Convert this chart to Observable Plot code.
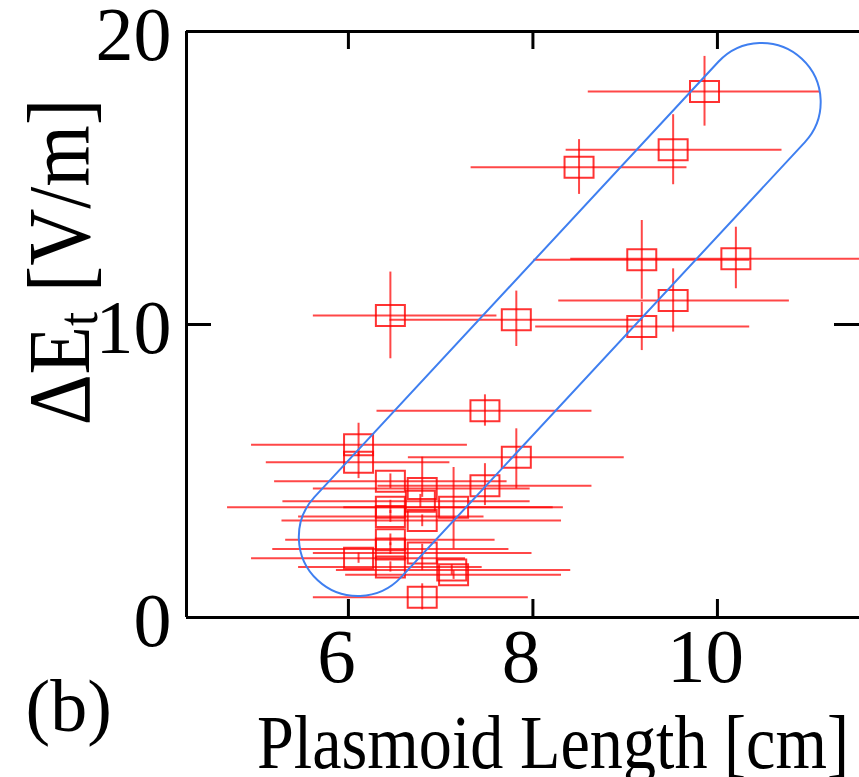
<!DOCTYPE html>
<html>
<head>
<meta charset="utf-8">
<script src="https://cdn.jsdelivr.net/npm/d3@7"></script>
<script src="https://cdn.jsdelivr.net/npm/@observablehq/plot@0.6"></script>
<style>
html, body { margin: 0; padding: 0; background: #ffffff; overflow: hidden; }
</style>
</head>
<body>
<div id="chart"></div>
<script>
// ---- data ----
const lengthCm = [9.86, 9.52, 8.50, 9.18, 10.20, 9.52, 9.18, 6.455, 7.82, 7.48,
                  6.11, 6.11, 7.82, 7.48, 7.14, 6.455, 6.80, 6.78, 6.455, 6.455,
                  6.80, 6.455, 6.455, 6.80, 6.11, 6.455, 7.12, 7.14, 6.80];
const deltaE   = [17.95, 15.96, 15.37, 12.21, 12.24, 10.82, 9.93, 10.31, 10.16, 7.06,
                  5.90, 5.30, 5.47, 4.50, 3.76, 4.65, 4.40, 3.97, 3.76, 3.45,
                  3.31, 2.65, 2.34, 2.20, 2.02, 1.72, 1.62, 1.46, 0.69];
const lengthMin = [8.60, 8.36, 7.33, 8.01, 8.41, 8.28, 8.03, 5.62, 6.45, 6.31,
                   4.95, 5.11, 6.65, 6.32, 5.95, 5.20, 5.62, 5.29, 4.69, 5.46,
                   5.28, 5.32, 5.18, 5.62, 4.95, 5.46, 5.87, 5.97, 5.62];
const lengthMax = [11.11, 10.70, 9.67, 10.35, 11.99, 10.78, 10.35, 7.61, 9.19, 8.64,
                   7.29, 7.10, 8.99, 8.64, 8.33, 7.72, 7.97, 7.97, 8.22, 7.47,
                   8.31, 7.59, 7.74, 7.99, 7.27, 7.45, 8.41, 8.31, 7.95];
const deltaEMin = [16.77, 14.77, 14.44, 10.86, 11.22, 9.74, 9.11, 8.83, 9.25, 6.53,
                   5.50, 4.74, 4.39, 3.82, 2.34, 4.40, 4.10, 3.75, 3.55, 3.25,
                   3.10, 2.45, 2.15, 1.60, 1.85, 1.55, 1.45, 1.30, 0.26];
const deltaEMax = [19.15, 17.16, 16.31, 13.55, 13.32, 11.90, 10.75, 11.79, 11.14, 7.60,
                   6.63, 5.60, 6.44, 5.25, 5.12, 4.90, 5.47, 4.20, 4.00, 3.65,
                   3.50, 2.85, 2.55, 2.50, 2.20, 1.90, 1.80, 1.60, 1.15];

const xTicks = [6, 8, 10];
const yTicks = [0, 10, 20];
const xDomain = [4.245, 11.54];
const yDomain = [0, 20];

// hand-drawn trend outline (stadium): end centres in data units, radius in x units
const blobX = [6.108, 10.485];
const blobY = [2.73, 17.58];
const blobRadius = [0.64];

const xTitle = "Plasmoid Length [cm]";
const panelTag = "(b)";

// ---- build table ----
const points = lengthCm.map((x, i) => ({
  x, y: deltaE[i],
  x1: lengthMin[i], x2: lengthMax[i],
  y1: deltaEMin[i], y2: deltaEMax[i]
}));

const W = 859, H = 777;
const mL = 186, mR = 0, mT = 31, mB = 160;
const frameW = W - mL - mR, frameH = H - mT - mB;
const SVGNS = "http://www.w3.org/2000/svg";

const boxSymbol = {
  draw(ctx) {
    ctx.moveTo(-14.5, -10.5);
    ctx.lineTo(14.5, -10.5);
    ctx.lineTo(14.5, 10.5);
    ctx.lineTo(-14.5, 10.5);
    ctx.closePath();
  }
};

function blobMark(index, scales) {
  const X = scales.x, Y = scales.y;
  const p1 = [X(blobX[0]), Y(blobY[0])];
  const p2 = [X(blobX[1]), Y(blobY[1])];
  const r = X(blobX[0] + blobRadius[0]) - X(blobX[0]);
  const dx = p2[0] - p1[0], dy = p2[1] - p1[1];
  const len = Math.hypot(dx, dy);
  const n = [dy / len, -dx / len];
  const a = [p1[0] + n[0] * r, p1[1] + n[1] * r];
  const b = [p2[0] + n[0] * r, p2[1] + n[1] * r];
  const c = [p2[0] - n[0] * r, p2[1] - n[1] * r];
  const d = [p1[0] - n[0] * r, p1[1] - n[1] * r];
  const path = document.createElementNS(SVGNS, "path");
  path.setAttribute("d",
    `M${a[0]},${a[1]}L${b[0]},${b[1]}A${r},${r} 0 0 1 ${c[0]},${c[1]}` +
    `L${d[0]},${d[1]}A${r},${r} 0 0 1 ${a[0]},${a[1]}Z`);
  path.setAttribute("fill", "none");
  path.setAttribute("stroke", "#3f7ff0");
  path.setAttribute("stroke-width", "2");
  return path;
}

function yTitleMark(index, scales, values, dims) {
  const t = document.createElementNS(SVGNS, "text");
  t.setAttribute("transform", `translate(${dims.marginLeft - 97},${262}) rotate(-90) scale(0.9,1)`);
  t.setAttribute("text-anchor", "middle");
  t.setAttribute("font-size", "88");
  t.setAttribute("fill", "black");
  const s1 = document.createElementNS(SVGNS, "tspan");
  s1.textContent = "ΔE";
  const s2 = document.createElementNS(SVGNS, "tspan");
  s2.textContent = "t";
  s2.setAttribute("font-size", "56");
  s2.setAttribute("dy", "8");
  const s3 = document.createElementNS(SVGNS, "tspan");
  s3.textContent = " [V/m]";
  s3.setAttribute("dy", "-8");
  t.append(s1, s2, s3);
  return t;
}

const chart = Plot.plot({
  width: W, height: H,
  marginLeft: mL, marginRight: mR, marginTop: mT, marginBottom: mB,
  x: { domain: xDomain, axis: null },
  y: { domain: yDomain, axis: null },
  style: { fontFamily: "'Liberation Serif', 'Times New Roman', serif", background: "#ffffff", color: "#000000" },
  marks: [
    // error bars
    Plot.ruleY(points, { y: "y", x1: "x1", x2: "x2", stroke: "#ff0000", strokeOpacity: 0.72, strokeWidth: 2 }),
    Plot.ruleX(points, { x: "x", y1: "y1", y2: "y2", stroke: "#ff0000", strokeOpacity: 0.72, strokeWidth: 2 }),
    // open boxes
    Plot.dot(points, { x: "x", y: "y", symbol: boxSymbol, fill: "none", stroke: "#ff0000", strokeOpacity: 0.8, strokeWidth: 2 }),
    // frame (top, bottom, left)
    Plot.ruleY([yDomain[0], yDomain[1]], { y: d => d, stroke: "#000", strokeWidth: 3 }),
    Plot.ruleX([xDomain[0]], { x: d => d, stroke: "#000", strokeWidth: 3 }),
    // inward ticks
    Plot.ruleX(xTicks, { x: d => d, insetTop: frameH - 18, stroke: "#000", strokeWidth: 3 }),
    Plot.ruleX(xTicks, { x: d => d, insetBottom: frameH - 18, stroke: "#000", strokeWidth: 3 }),
    Plot.ruleY(yTicks, { y: d => d, insetRight: frameW - 25, stroke: "#000", strokeWidth: 3 }),
    Plot.ruleY(yTicks, { y: d => d, insetLeft: frameW - 25, stroke: "#000", strokeWidth: 3 }),
    // tick labels
    Plot.text(xTicks, { x: d => d, text: d => String(d), frameAnchor: "bottom", lineAnchor: "bottom", dx: -12, dy: 64, fontSize: 77, fill: "#000" }),
    Plot.text(yTicks, { y: d => d, text: d => String(d), frameAnchor: "left", textAnchor: "end", lineAnchor: "bottom", dx: -15, dy: 28, fontSize: 76, fill: "#000" }),
    // titles
    Plot.text([xTitle], { text: d => d, frameAnchor: "bottom", textAnchor: "middle", lineAnchor: "bottom", dx: 30, dy: 150, fontSize: 77, fill: "#000" }),
    Plot.text([panelTag], { text: d => d, frameAnchor: "bottom-left", textAnchor: "start", lineAnchor: "bottom", dx: -161, dy: 113, fontSize: 74, fill: "#000" }),
    yTitleMark,
    // trend outline
    blobMark
  ]
});

document.getElementById("chart").appendChild(chart);

// condense a title horizontally about its own centre (reference type is narrow)
function squeezeText(content, sx) {
  chart.querySelectorAll("text").forEach(t => {
    if (t.textContent !== content) return;
    const bb = t.getBBox();
    const cx = bb.x + bb.width / 2;
    const tr = t.getAttribute("transform") || "";
    t.setAttribute("transform", `${tr} translate(${cx},0) scale(${sx},1) translate(${-cx},0)`);
  });
}
squeezeText(xTitle, 0.86);
</script>
</body>
</html>
